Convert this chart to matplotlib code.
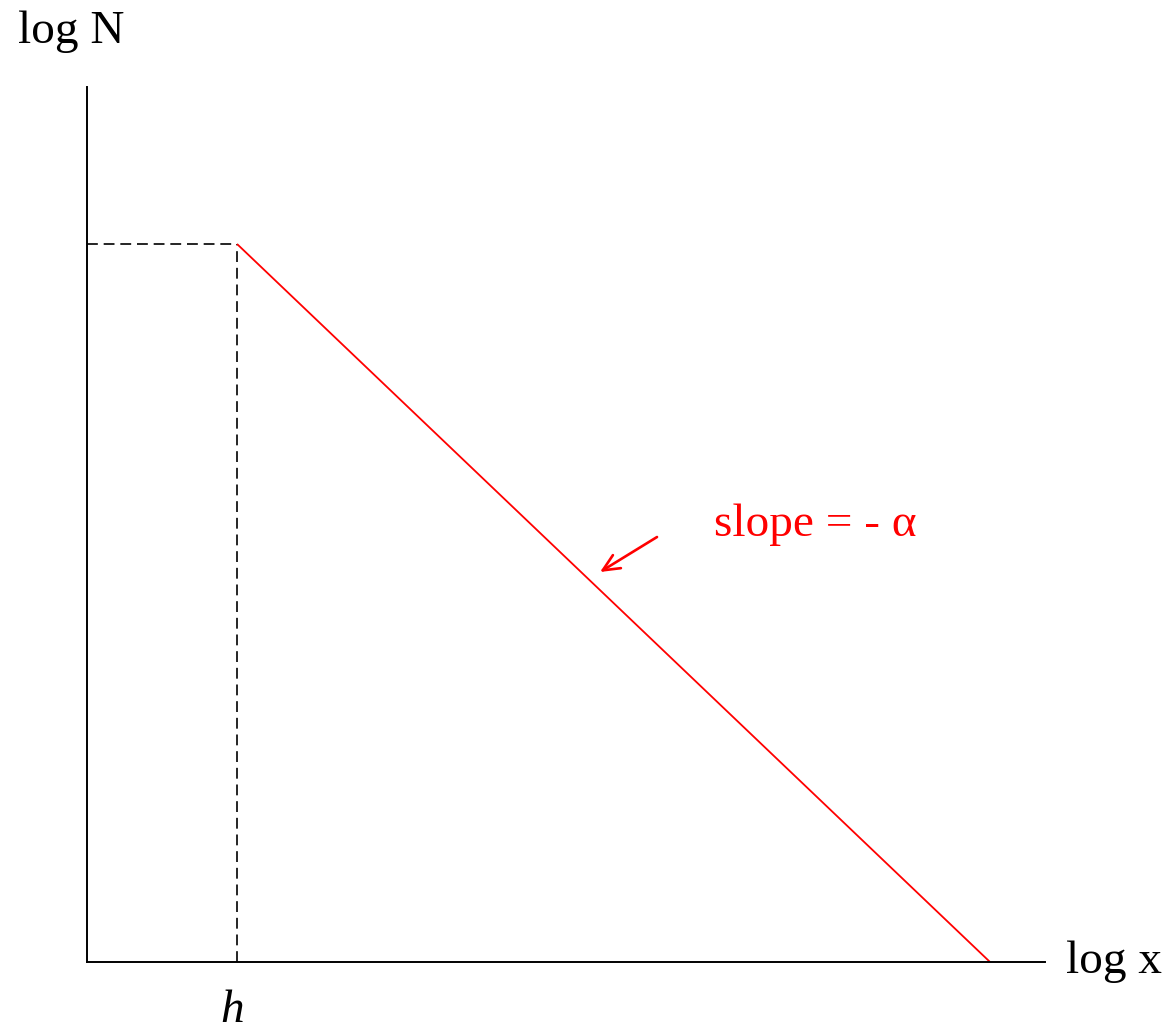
import matplotlib
matplotlib.use("Agg")
import matplotlib.pyplot as plt

plt.rcParams["font.family"] = ["Liberation Serif", "DejaVu Serif"]

# Schematic power-law: flat up to h, then a straight decline of slope -alpha
h = 0.1566
plateau = 0.8206
x_end = 0.9426
curve_x = [h, x_end]
curve_y = [plateau, 0.0]

arrow_tail = (0.595, 0.4857)
arrow_head = (0.5355, 0.4457)

W, H = 1169, 1033
fig = plt.figure(figsize=(W / 100, H / 100), dpi=100)
ax = fig.add_axes([87 / W, (H - 962) / H, (1045 - 87) / W, (962 - 87) / H])
ax.set_xlim(0, 1)
ax.set_ylim(0, 1)
for side in ("top", "right"):
    ax.spines[side].set_visible(False)
for side in ("left", "bottom"):
    ax.spines[side].set_linewidth(1.4)
ax.set_xticks([])
ax.set_yticks([])

ax.plot([0, h], [plateau, plateau], color="black", lw=1.2, ls=(0, (6.5, 3.5)))
ax.plot([h, h], [0, plateau], color="black", lw=1.2, ls=(0, (6.5, 3.5)))
ax.plot(curve_x, curve_y, color="red", lw=1.3, solid_capstyle="butt")

ax.annotate("", xy=arrow_head, xytext=arrow_tail,
            arrowprops=dict(arrowstyle="->,head_length=1.2,head_width=0.55",
                        color="red", lw=1.9, shrinkA=0, shrinkB=0))
ax.text(0.655, 0.487, "slope = - \u03b1", color="red", fontsize=34,
        ha="left", va="baseline", transform=ax.transAxes)

fig.text(18 / W, 1 - 43 / H, "log N", fontsize=34, ha="left", va="baseline")
fig.text(1066 / W, 1 - 973 / H, "log x", fontsize=34, ha="left", va="baseline")
fig.text(232 / W, 1 - 1022 / H, "h", fontsize=34, style="italic",
         ha="center", va="baseline")

fig.savefig("out.png", dpi=100, facecolor="white")
